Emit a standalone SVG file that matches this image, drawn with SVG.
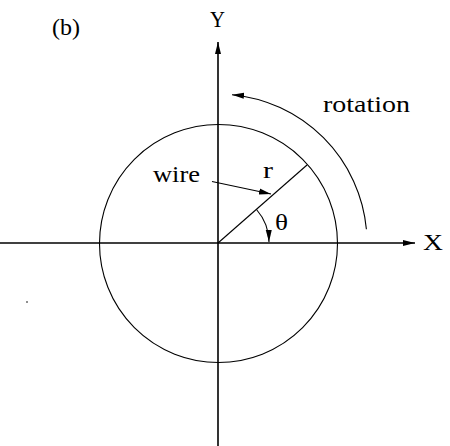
<svg xmlns="http://www.w3.org/2000/svg" width="450" height="446" viewBox="0 0 450 446">
  <style>
    .t { font-family: "Liberation Serif", "Times New Roman", serif; font-size: 23px; fill: #000; }
    .ax { stroke: #000; stroke-width: 1.6; fill: none; }
    .ln { stroke: #000; stroke-width: 1.1; fill: none; }
  </style>
  <defs>
    <marker id="ah" markerUnits="userSpaceOnUse" markerWidth="13" markerHeight="8" refX="12" refY="3.5" orient="auto">
      <path d="M0,0.5 L12,3.5 L0,6.5 z" fill="#000"/>
    </marker>
  </defs>
  <rect width="450" height="446" fill="#fff"/>
  <g id="axes">
    <line class="ax" x1="218" y1="446" x2="218" y2="42" marker-end="url(#ah)"/>
    <line class="ax" x1="0" y1="243" x2="415" y2="243" marker-end="url(#ah)"/>
  </g>
  <g id="circle">
    <circle class="ln" cx="218.5" cy="243.5" r="119"/>
  </g>
  <g id="connectors">
    <line class="ln" x1="218" y1="243" x2="307" y2="165"/>
    <path class="ln" d="M366.4 229.2 A149 149 0 0 0 232 94.7" marker-end="url(#ah)"/>
    <path class="ln" d="M256.5 209.5 A51 51 0 0 1 269 242" marker-end="url(#ah)"/>
    <line class="ln" x1="212" y1="181.5" x2="271" y2="194" marker-end="url(#ah)"/>
  </g>
  <g id="labels">
    <text class="t" x="52" y="35" textLength="28" lengthAdjust="spacingAndGlyphs">(b)</text>
    <text class="t" x="210" y="27" textLength="15" lengthAdjust="spacingAndGlyphs">Y</text>
    <text class="t" x="423" y="250" textLength="20" lengthAdjust="spacingAndGlyphs">X</text>
    <text class="t" x="323" y="112" textLength="87" lengthAdjust="spacingAndGlyphs">rotation</text>
    <text class="t" x="153" y="182" textLength="47" lengthAdjust="spacingAndGlyphs">wire</text>
    <text class="t" x="263" y="178" textLength="10" lengthAdjust="spacingAndGlyphs">r</text>
    <text class="t" x="275" y="230" textLength="13" lengthAdjust="spacingAndGlyphs">θ</text>
  </g>
  <circle cx="27" cy="302" r="0.8" fill="#000"/>
</svg>
